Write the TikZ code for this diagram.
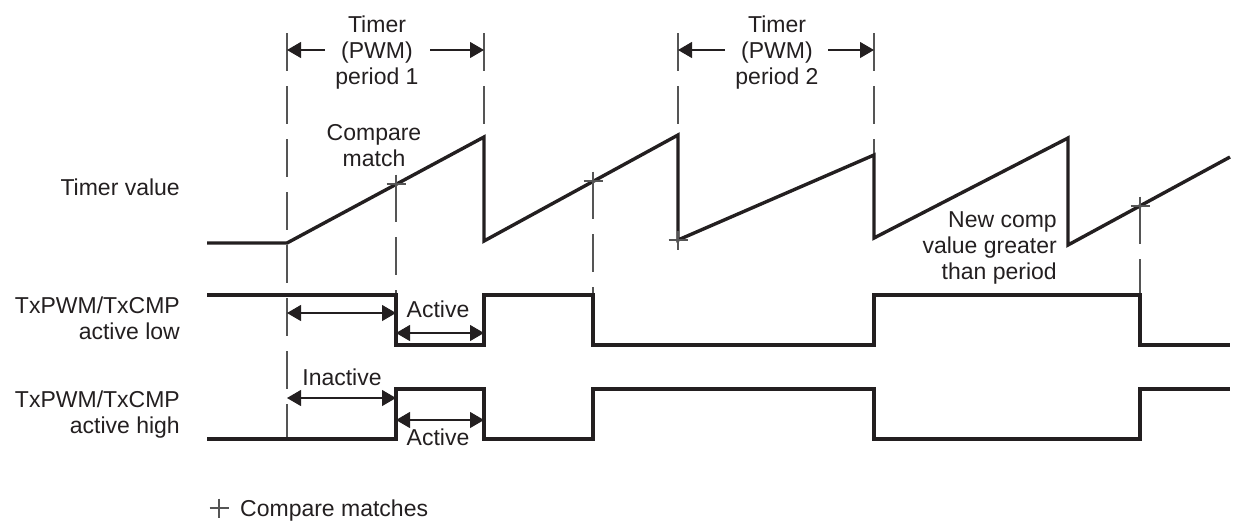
\documentclass[tikz,border=0pt]{standalone}
\usepackage{fontspec}
\setmainfont{Liberation Sans}
\usetikzlibrary{arrows.meta}
\definecolor{ink}{HTML}{231F20}
\definecolor{guidegray}{HTML}{555555}
\begin{document}
\begin{tikzpicture}[x=1pt,y=-1pt,
  every node/.style={inner sep=0pt, text=ink, font=\fontsize{23}{26}\selectfont},
  wave/.style={line width=3.4pt, line join=miter, line cap=butt, draw=ink},
  guide/.style={line width=1.1pt, draw=guidegray, dash pattern=on 38pt off 15pt},
  dimline/.style={line width=1.1pt, draw=ink},
  twohead/.style={dimline, {Triangle[length=14pt,width=16pt]}-{Triangle[length=14pt,width=16pt]}},
  onehead/.style={dimline, -{Triangle[length=14pt,width=16pt]}},
  plusmark/.pic={\draw[line width=1.1pt, draw=guidegray] (-9.5,0) -- (9.5,0) (0,-9.5) -- (0,9.5);}
]
\useasboundingbox (0,0) rectangle (1236,520);

% ---- key points of the sawtooth (timer value)
\coordinate (s0) at (207,243);
\coordinate (r1) at (287,243);
\coordinate (p1) at (484,137);
\coordinate (b1) at (484,241);
\coordinate (p2) at (678,135);
\coordinate (b2) at (678,240);
\coordinate (p3) at (874,155);
\coordinate (b3) at (874,238);
\coordinate (p4) at (1068,138);
\coordinate (b4) at (1068,245);
\coordinate (se) at (1230,157);

% ---- compare match points
\coordinate (m1) at (396,184);
\coordinate (m2) at (593,181);
\coordinate (m3) at (678,240);
\coordinate (m4) at (1140,206);

% ---- active low signal points
\coordinate (l0) at (207,295);
\coordinate (l1) at (396,295);
\coordinate (l2) at (396,345);
\coordinate (l3) at (484,345);
\coordinate (l4) at (484,295);
\coordinate (l5) at (593,295);
\coordinate (l6) at (593,345);
\coordinate (l7) at (874,345);
\coordinate (l8) at (874,295);
\coordinate (l9) at (1140,295);
\coordinate (l10) at (1140,345);
\coordinate (l11) at (1230,345);

% ---- active high signal points
\coordinate (h0) at (207,439);
\coordinate (h1) at (396,439);
\coordinate (h2) at (396,389);
\coordinate (h3) at (484,389);
\coordinate (h4) at (484,439);
\coordinate (h5) at (593,439);
\coordinate (h6) at (593,389);
\coordinate (h7) at (874,389);
\coordinate (h8) at (874,439);
\coordinate (h9) at (1140,439);
\coordinate (h10) at (1140,389);
\coordinate (h11) at (1230,389);

% ---- guide lines (drawn first, under the waveforms)
\coordinate (g1t) at (287,33);
\coordinate (g2t) at (484,33);
\coordinate (g3t) at (678,33);
\coordinate (g4t) at (874,33);
\draw[guide] (g1t) -- (h0 -| g1t);
\draw[guide] (g2t) -- (p1);
\draw[guide] (g3t) -- (m3);
\draw[guide] (g4t) -- (p3);
\draw[guide] (m1) -- (l1);
\draw[guide] (m2) -- (l5);
\draw[guide] (m4) -- (l9);

% ---- waveforms
\draw[wave] (s0) -- (r1) -- (p1) -- (b1) -- (p2) -- (b2) -- (p3) -- (b3) -- (p4) -- (b4) -- (se);
\draw[wave] (l0) -- (l1) -- (l2) -- (l3) -- (l4) -- (l5) -- (l6) -- (l7) -- (l8) -- (l9) -- (l10) -- (l11);
\draw[wave] (h0) -- (h1) -- (h2) -- (h3) -- (h4) -- (h5) -- (h6) -- (h7) -- (h8) -- (h9) -- (h10) -- (h11);

% ---- compare marks
\foreach \m in {m1,m2,m3,m4} \pic at (\m) {plusmark};

% ---- period labels and arrows
\node[align=center, anchor=north] (per1) at (377,15.5) {Timer\\(PWM)\\period 1};
\node[align=center, anchor=north] (per2) at (777,15.5) {Timer\\(PWM)\\period 2};
\coordinate (a1l) at (325,50);
\coordinate (a1r) at (430,50);
\coordinate (a2l) at (725,50);
\coordinate (a2r) at (828,50);
\draw[onehead] (a1l) -- (g1t |- a1l);
\draw[onehead] (a1r) -- (g2t |- a1r);
\draw[onehead] (a2l) -- (g3t |- a2l);
\draw[onehead] (a2r) -- (g4t |- a2r);

% ---- text labels
\node[align=center, anchor=north] (cm) at (374,124.5) {Compare\\match};
\node[align=right, anchor=north east] (nc) at (1057,211.5) {New comp\\value greater\\than period};
\node[anchor=base east] (tv) at (180,195) {Timer value};
\node[align=right, anchor=north east] (alow) at (180,296.5) {TxPWM/TxCMP\\active low};
\node[align=right, anchor=north east] (ahigh) at (180,391) {TxPWM/TxCMP\\active high};

% ---- active / inactive spans
\coordinate (d1a) at (287,313);
\coordinate (d1b) at (396,313);
\coordinate (d2a) at (396,333);
\coordinate (d2b) at (484,333);
\coordinate (d3a) at (287,398);
\coordinate (d3b) at (396,398);
\coordinate (d4a) at (396,420);
\coordinate (d4b) at (484,420);
\draw[twohead] (d1a) -- (d1b);
\draw[twohead] (d2a) -- (d2b);
\draw[twohead] (d3a) -- (d3b);
\draw[twohead] (d4a) -- (d4b);
\node[anchor=base] (act1) at (438,317) {Active};
\node[anchor=base] (inact) at (342,385) {Inactive};
\node[anchor=base] (act2) at (438,445) {Active};

% ---- legend
\coordinate (lg) at (219,508);
\pic at (lg) {plusmark};
\node[anchor=base west] (lgt) at (240,516) {Compare matches};
\end{tikzpicture}
\end{document}
